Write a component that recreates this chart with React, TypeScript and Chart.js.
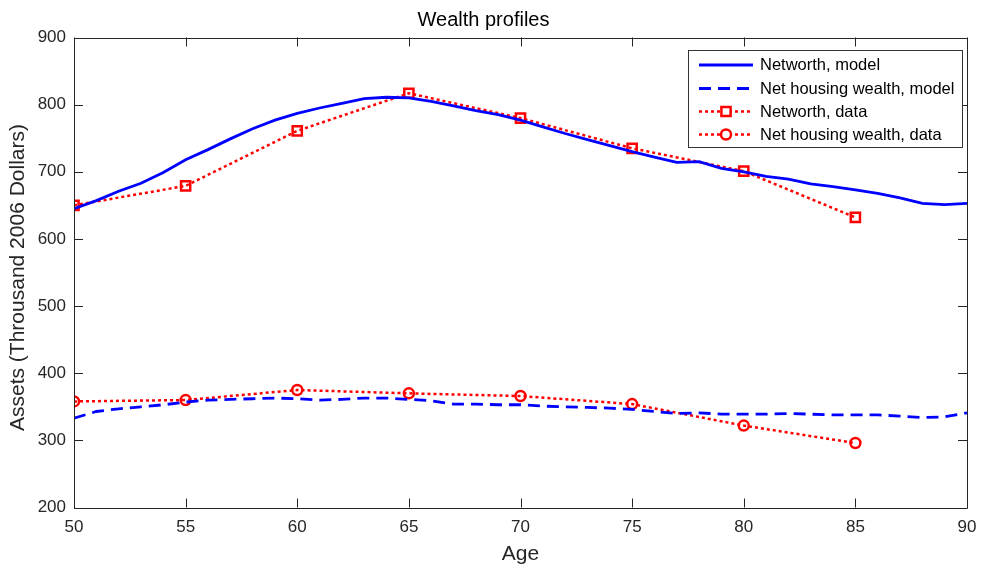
import React, { useEffect, useRef } from 'react';
import { Chart, registerables } from 'chart.js';

Chart.register(...registerables);

const FONT = "'Liberation Sans', Arial, Helvetica, sans-serif";

const modelAges = [50, 51, 52, 53, 54, 55, 56, 57, 58, 59, 60, 61, 62, 63, 64, 65, 66, 67, 68, 69, 70, 71, 72, 73, 74, 75, 76, 77, 78, 79, 80, 81, 82, 83, 84, 85, 86, 87, 88, 89, 90];
const networthModel = [645, 657, 671, 683, 699, 718, 733, 749, 764, 777, 787, 795, 802, 809, 811, 810, 805, 798, 791, 785, 777, 767, 757, 748, 739, 730, 722, 714, 715, 705, 700, 693, 689, 682, 678, 673, 668, 661, 653, 651, 653];
const housingModel = [333, 343, 347, 350, 353, 357, 360, 361, 362, 363, 362, 360, 361, 363, 363, 361, 359, 354, 354, 353, 353, 351, 350, 349, 348, 346, 343, 340, 341, 339, 339, 339, 340, 339, 338, 338, 338, 336, 334, 335, 341];

const dataAges = [50, 55, 60, 65, 70, 75, 80, 85];
const networthData = [650, 679, 761, 817, 780, 735, 701, 632];
const housingData = [358, 360, 375, 370, 366, 354, 322, 296];

const xTicks = [50, 55, 60, 65, 70, 75, 80, 85, 90];
const yTicks = [200, 300, 400, 500, 600, 700, 800, 900];

const seriesLabels = ['Networth, model', 'Net housing wealth, model', 'Networth, data', 'Net housing wealth, data'];
const titleText = 'Wealth profiles';
const xTitle = 'Age';
const yTitle = 'Assets (Throusand 2006 Dollars)';

const toPoints = (xs: number[], ys: number[]) => xs.map((x, i) => ({ x, y: ys[i] }));

const boxPlugin = {
  id: 'matlabBox',
  afterDatasetsDraw(chart: any) {
    const { ctx, chartArea } = chart;
    const { left, right, top, bottom } = chartArea;
    const xs = chart.scales.x;
    const ys = chart.scales.y;
    const tl = 9;
    ctx.save();
    ctx.strokeStyle = '#262626';
    ctx.lineWidth = 1;
    ctx.setLineDash([]);
    ctx.beginPath();
    ctx.rect(Math.round(left) + 0.5, Math.round(top) + 0.5, Math.round(right - left), Math.round(bottom - top));
    ctx.stroke();
    ctx.beginPath();
    xTicks.forEach((v) => {
      const px = Math.round(xs.getPixelForValue(v)) + 0.5;
      ctx.moveTo(px, bottom);
      ctx.lineTo(px, bottom - tl);
      ctx.moveTo(px, top);
      ctx.lineTo(px, top + tl);
    });
    yTicks.forEach((v) => {
      const py = Math.round(ys.getPixelForValue(v)) + 0.5;
      ctx.moveTo(left, py);
      ctx.lineTo(left + tl, py);
      ctx.moveTo(right, py);
      ctx.lineTo(right - tl, py);
    });
    ctx.stroke();

    // y axis title (MATLAB places it slightly below the axes centre)
    ctx.save();
    ctx.translate(18, (top + bottom) / 2 + 5);
    ctx.rotate(-Math.PI / 2);
    ctx.fillStyle = '#262626';
    ctx.font = `21px ${FONT}`;
    ctx.textAlign = 'center';
    ctx.textBaseline = 'middle';
    ctx.fillText(yTitle, 0, 0);
    ctx.restore();

    // legend
    const lx = 688.5, ly = 50.5, lw = 274, lh = 97;
    ctx.fillStyle = '#ffffff';
    ctx.fillRect(lx, ly, lw, lh);
    ctx.strokeStyle = '#333333';
    ctx.lineWidth = 1;
    ctx.strokeRect(lx, ly, lw, lh);
    const rows = [65, 88.5, 111.5, 134.5];
    chart.data.datasets.forEach((ds: any, i: number) => {
      const y = rows[i];
      ctx.save();
      ctx.strokeStyle = ds.borderColor;
      ctx.lineWidth = ds.borderWidth;
      ctx.lineCap = 'butt';
      ctx.setLineDash(ds.borderDash || []);
      ctx.beginPath();
      ctx.moveTo(699, y);
      ctx.lineTo(753, y);
      ctx.stroke();
      ctx.setLineDash([]);
      if (ds.pointRadius > 0) {
        ctx.strokeStyle = ds.pointBorderColor;
        ctx.lineWidth = ds.pointBorderWidth;
        ctx.fillStyle = '#ffffff';
        ctx.beginPath();
        if (ds.pointStyle === 'rect') {
          const s = ds.pointRadius * Math.SQRT1_2;
          ctx.rect(726 - s, y - s, 2 * s, 2 * s);
        } else {
          ctx.arc(726, y, ds.pointRadius, 0, Math.PI * 2);
        }
        ctx.fill();
        ctx.stroke();
      }
      ctx.restore();
      ctx.fillStyle = '#000000';
      ctx.font = `16.5px ${FONT}`;
      ctx.textAlign = 'left';
      ctx.textBaseline = 'middle';
      ctx.fillText(ds.label, 760, y + 0.5);
    });
    ctx.restore();
  },
};

export default function App() {
  const ref = useRef<HTMLCanvasElement | null>(null);
  useEffect(() => {
    if (!ref.current) return;
    const chart = new Chart(ref.current, {
      type: 'line',
      data: {
        datasets: [
          {
            label: seriesLabels[0],
            data: toPoints(modelAges, networthModel),
            borderColor: '#0000ff',
            borderWidth: 2.8,
            pointRadius: 0,
            tension: 0,
          },
          {
            label: seriesLabels[1],
            data: toPoints(modelAges, housingModel),
            borderColor: '#0000ff',
            borderWidth: 2.8,
            borderDash: [12, 7],
            borderCapStyle: 'butt',
            pointRadius: 0,
            tension: 0,
          },
          {
            label: seriesLabels[2],
            data: toPoints(dataAges, networthData),
            borderColor: '#ff0000',
            borderWidth: 2.5,
            borderDash: [3, 3],
            borderCapStyle: 'butt',
            pointStyle: 'rect',
            pointRadius: 6.5,
            pointBorderWidth: 2.5,
            pointBorderColor: '#ff0000',
            pointBackgroundColor: 'rgba(0,0,0,0)',
            tension: 0,
          },
          {
            label: seriesLabels[3],
            data: toPoints(dataAges, housingData),
            borderColor: '#ff0000',
            borderWidth: 2.5,
            borderDash: [3, 3],
            borderCapStyle: 'butt',
            pointStyle: 'circle',
            pointRadius: 5,
            pointBorderWidth: 2.5,
            pointBorderColor: '#ff0000',
            pointBackgroundColor: 'rgba(0,0,0,0)',
            tension: 0,
          },
        ] as any,
      },
      options: {
        responsive: false,
        animation: false,
        devicePixelRatio: 1,
        layout: { padding: { top: 0, right: 14, bottom: 0, left: 0 } },
        plugins: {
          legend: { display: false },
          tooltip: { enabled: false },
          title: {
            display: true,
            text: titleText,
            color: '#000000',
            font: { family: FONT, size: 20, weight: 'normal' as any },
            padding: { top: 8.5, bottom: 5 },
          },
        },
        scales: {
          x: {
            type: 'linear',
            min: 50,
            max: 90,
            afterBuildTicks: (s: any) => { s.ticks = xTicks.map((v) => ({ value: v })); },
            afterFit: (s: any) => { s.height = 63.5; s.paddingRight = 0; s.paddingLeft = 0; },
            grid: { display: false, drawTicks: false },
            border: { display: false },
            ticks: {
              color: '#262626',
              padding: 10,
              maxRotation: 0,
              font: { family: FONT, size: 17 },
            },
            title: {
              display: true,
              text: xTitle,
              color: '#262626',
              font: { family: FONT, size: 21 },
              padding: { top: 0, bottom: 4 },
            },
          },
          y: {
            type: 'linear',
            min: 200,
            max: 900,
            afterBuildTicks: (s: any) => { s.ticks = yTicks.map((v) => ({ value: v })); },
            afterFit: (s: any) => { s.width = 74; },
            grid: { display: false, drawTicks: false },
            border: { display: false },
            ticks: {
              color: '#262626',
              padding: 8,
              font: { family: FONT, size: 17 },
            },
            title: { display: false },
          },
        },
      },
      plugins: [boxPlugin],
    });
    return () => chart.destroy();
  }, []);
  return (
    <div style={{ position: 'fixed', left: 0, top: 0, width: 981, height: 571, background: '#ffffff' }}>
      <canvas ref={ref} width={981} height={571} style={{ display: 'block' }} />
    </div>
  );
}
